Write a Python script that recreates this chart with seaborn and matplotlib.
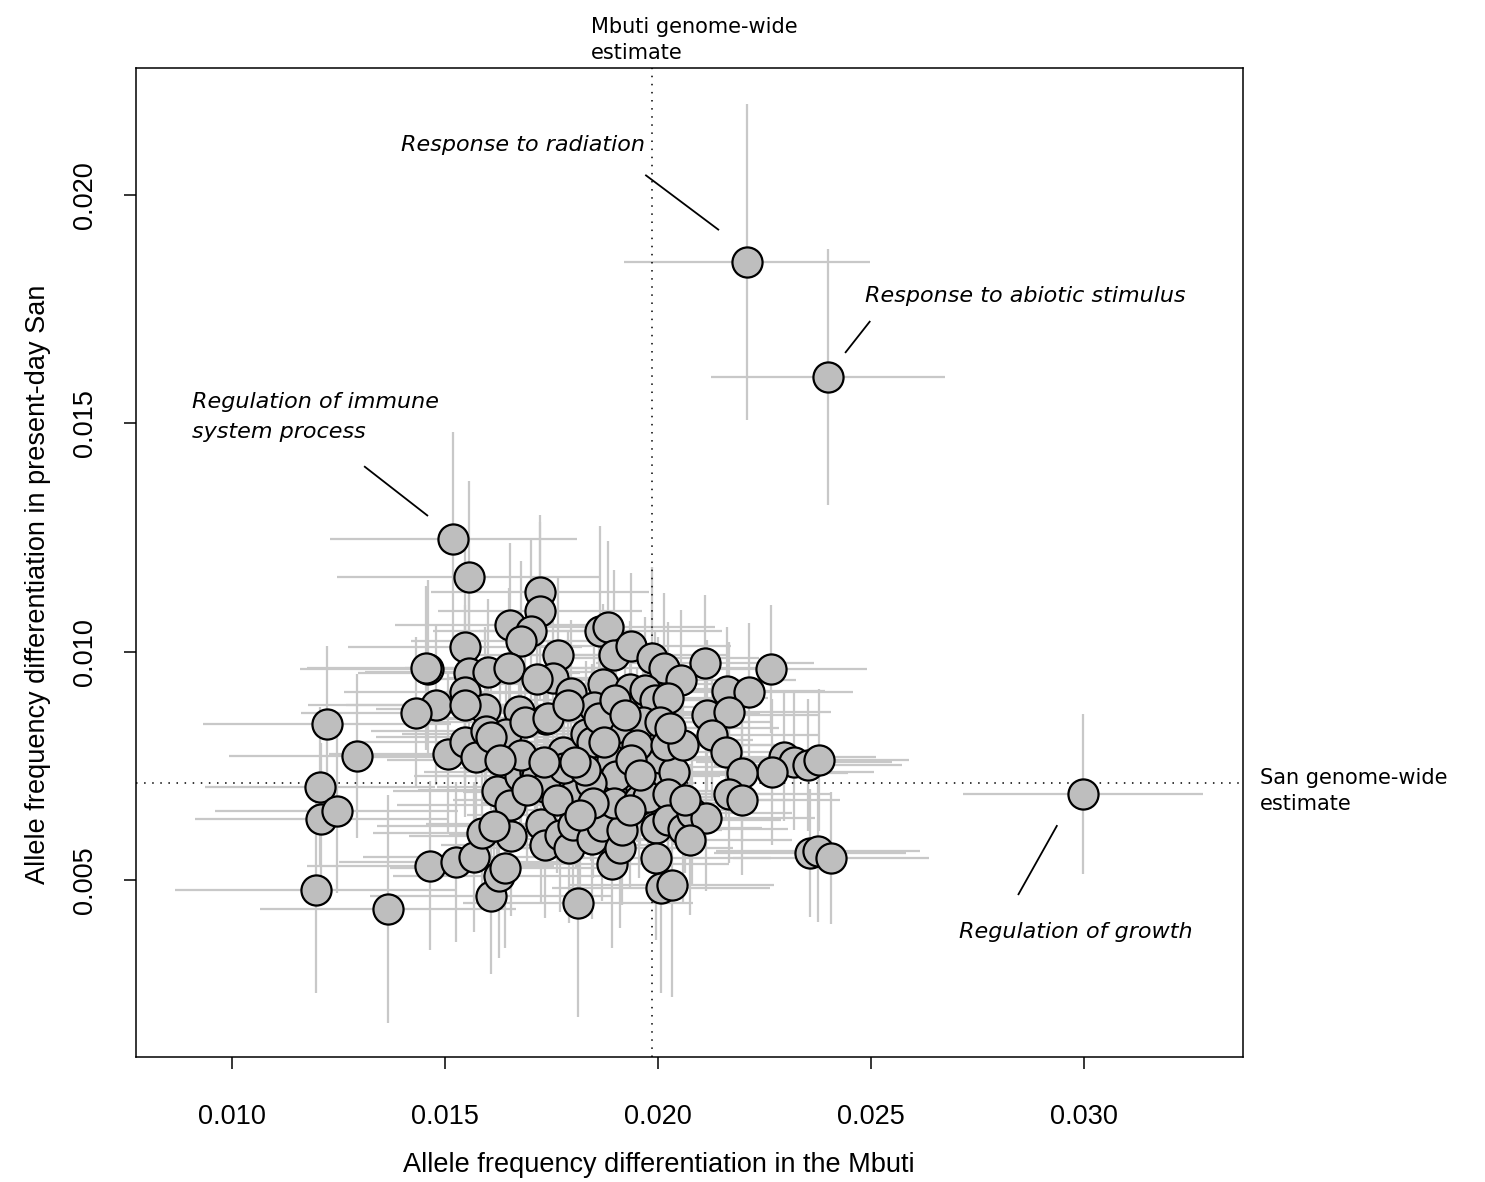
import matplotlib
matplotlib.use("Agg")
import matplotlib.pyplot as plt
import pandas as pd
import seaborn as sns

# Per-category allele frequency differentiation (Mbuti on x, present-day San on y)
mbuti_fst = [
    0.02209, 0.02399, 0.02998, 0.01519, 0.01556, 0.01723, 0.01723, 0.01653, 0.01702, 0.01679,
    0.01864, 0.01883, 0.01547, 0.01765, 0.01897, 0.01937, 0.01986, 0.01460, 0.01455, 0.01556,
    0.01601, 0.01650, 0.02110, 0.02265, 0.02014, 0.02054, 0.01754, 0.01716, 0.01795, 0.01871,
    0.01934, 0.01547, 0.01479, 0.01432, 0.01594, 0.02162, 0.02213, 0.02115, 0.02166, 0.02127,
    0.02159, 0.01674, 0.01737, 0.01850, 0.01901, 0.01969, 0.02000, 0.01969, 0.01993, 0.02023,
    0.01223, 0.01293, 0.01507, 0.01547, 0.01573, 0.01596, 0.01643, 0.01688, 0.01742, 0.01777,
    0.01831, 0.01845, 0.01892, 0.01951, 0.02005, 0.02037, 0.01965, 0.02005, 0.01951, 0.02019,
    0.02296, 0.02319, 0.02352, 0.02378, 0.02267, 0.02197, 0.01207, 0.01209, 0.01246, 0.01197,
    0.01366, 0.01465, 0.01526, 0.01568, 0.01608, 0.01627, 0.01641, 0.01587, 0.01622, 0.01652,
    0.01655, 0.01615, 0.01676, 0.01711, 0.01716, 0.01735, 0.01725, 0.01735, 0.01770, 0.01791,
    0.01800, 0.01807, 0.01779, 0.01812, 0.01845, 0.01869, 0.01864, 0.01890, 0.01892, 0.01901,
    0.01911, 0.01915, 0.01897, 0.01955, 0.01976, 0.01995, 0.01995, 0.02007, 0.02033, 0.02023,
    0.02023, 0.02059, 0.02080, 0.02113, 0.02166, 0.02197, 0.02357, 0.02375, 0.02406, 0.01678,
    0.01732, 0.01843, 0.01861, 0.01692, 0.01608, 0.01828, 0.01936, 0.01847, 0.01763, 0.01934,
    0.01817, 0.01958, 0.02063, 0.02059, 0.02028, 0.01629, 0.01547, 0.01789, 0.01899, 0.01922,
    0.01805, 0.01873, 0.02075,
]
san_fst = [
    0.01853, 0.01601, 0.00688, 0.01247, 0.01164, 0.01130, 0.01089, 0.01058, 0.01045, 0.01023,
    0.01045, 0.01053, 0.01010, 0.00993, 0.00993, 0.01012, 0.00986, 0.00962, 0.00964, 0.00953,
    0.00956, 0.00964, 0.00975, 0.00962, 0.00964, 0.00937, 0.00942, 0.00940, 0.00909, 0.00929,
    0.00918, 0.00911, 0.00883, 0.00866, 0.00874, 0.00914, 0.00912, 0.00861, 0.00867, 0.00818,
    0.00780, 0.00870, 0.00853, 0.00879, 0.00833, 0.00806, 0.00863, 0.00916, 0.00894, 0.00899,
    0.00842, 0.00772, 0.00776, 0.00803, 0.00769, 0.00826, 0.00820, 0.00846, 0.00855, 0.00780,
    0.00820, 0.00803, 0.00763, 0.00748, 0.00767, 0.00737, 0.00846, 0.00846, 0.00796, 0.00796,
    0.00770, 0.00759, 0.00752, 0.00763, 0.00737, 0.00734, 0.00704, 0.00634, 0.00651, 0.00478,
    0.00436, 0.00531, 0.00539, 0.00550, 0.00465, 0.00509, 0.00526, 0.00603, 0.00695, 0.00664,
    0.00596, 0.00618, 0.00728, 0.00737, 0.00728, 0.00704, 0.00623, 0.00577, 0.00599, 0.00570,
    0.00620, 0.00693, 0.00745, 0.00450, 0.00590, 0.00618, 0.00675, 0.00695, 0.00535, 0.00728,
    0.00570, 0.00610, 0.00669, 0.00675, 0.00682, 0.00614, 0.00548, 0.00482, 0.00489, 0.00688,
    0.00631, 0.00612, 0.00647, 0.00636, 0.00688, 0.00675, 0.00559, 0.00564, 0.00548, 0.00774,
    0.00758, 0.00712, 0.00855, 0.00697, 0.00813, 0.00741, 0.00763, 0.00669, 0.00675, 0.00653,
    0.00642, 0.00730, 0.00675, 0.00796, 0.00833, 0.00763, 0.00883, 0.00883, 0.00894, 0.00861,
    0.00758, 0.00803, 0.00588,
]
# Half-widths of the uncertainty intervals
mbuti_err = [
    0.00288, 0.00275, 0.00282, 0.00290, 0.00310, 0.00255, 0.00240, 0.00270, 0.00230, 0.00260,
    0.00285, 0.00250, 0.00275, 0.00240, 0.00265, 0.00235, 0.00250, 0.00300, 0.00280, 0.00260,
    0.00290, 0.00245, 0.00255, 0.00225, 0.00240, 0.00270, 0.00250, 0.00280, 0.00235, 0.00260,
    0.00245, 0.00285, 0.00300, 0.00270, 0.00255, 0.00230, 0.00245, 0.00265, 0.00240, 0.00250,
    0.00230, 0.00275, 0.00260, 0.00245, 0.00270, 0.00255, 0.00240, 0.00265, 0.00250, 0.00235,
    0.00290, 0.00300, 0.00280, 0.00265, 0.00255, 0.00270, 0.00245, 0.00260, 0.00275, 0.00250,
    0.00240, 0.00265, 0.00255, 0.00245, 0.00270, 0.00235, 0.00250, 0.00260, 0.00240, 0.00255,
    0.00215, 0.00230, 0.00220, 0.00210, 0.00240, 0.00250, 0.00270, 0.00295, 0.00285, 0.00330,
    0.00300, 0.00290, 0.00275, 0.00260, 0.00285, 0.00250, 0.00270, 0.00255, 0.00245, 0.00265,
    0.00240, 0.00275, 0.00250, 0.00260, 0.00240, 0.00255, 0.00270, 0.00245, 0.00260, 0.00250,
    0.00235, 0.00265, 0.00245, 0.00270, 0.00255, 0.00240, 0.00260, 0.00250, 0.00275, 0.00245,
    0.00265, 0.00235, 0.00255, 0.00245, 0.00260, 0.00250, 0.00270, 0.00255, 0.00240, 0.00250,
    0.00265, 0.00245, 0.00235, 0.00255, 0.00240, 0.00230, 0.00225, 0.00240, 0.00230, 0.00260,
    0.00250, 0.00245, 0.00265, 0.00255, 0.00270, 0.00240, 0.00250, 0.00260, 0.00245, 0.00255,
    0.00265, 0.00240, 0.00250, 0.00245, 0.00255, 0.00265, 0.00280, 0.00250, 0.00245, 0.00260,
    0.00250, 0.00255, 0.00240,
]
san_err = [
    0.00346, 0.00280, 0.00176, 0.00235, 0.00210, 0.00170, 0.00195, 0.00180, 0.00200, 0.00175,
    0.00230, 0.00190, 0.00215, 0.00170, 0.00185, 0.00160, 0.00200, 0.00195, 0.00180, 0.00170,
    0.00160, 0.00175, 0.00150, 0.00140, 0.00165, 0.00155, 0.00185, 0.00170, 0.00160, 0.00175,
    0.00150, 0.00190, 0.00175, 0.00165, 0.00180, 0.00140, 0.00150, 0.00165, 0.00155, 0.00145,
    0.00150, 0.00170, 0.00160, 0.00175, 0.00165, 0.00155, 0.00170, 0.00160, 0.00150, 0.00165,
    0.00170, 0.00180, 0.00175, 0.00165, 0.00185, 0.00160, 0.00170, 0.00155, 0.00165, 0.00175,
    0.00160, 0.00170, 0.00155, 0.00165, 0.00150, 0.00160, 0.00170, 0.00155, 0.00165, 0.00150,
    0.00140, 0.00150, 0.00145, 0.00155, 0.00160, 0.00150, 0.00175, 0.00165, 0.00180, 0.00225,
    0.00250, 0.00185, 0.00175, 0.00165, 0.00170, 0.00180, 0.00175, 0.00165, 0.00170, 0.00160,
    0.00175, 0.00165, 0.00160, 0.00170, 0.00155, 0.00165, 0.00175, 0.00160, 0.00170, 0.00165,
    0.00155, 0.00170, 0.00160, 0.00250, 0.00175, 0.00165, 0.00160, 0.00170, 0.00185, 0.00155,
    0.00175, 0.00165, 0.00160, 0.00170, 0.00155, 0.00165, 0.00180, 0.00230, 0.00245, 0.00160,
    0.00170, 0.00165, 0.00155, 0.00160, 0.00150, 0.00165, 0.00140, 0.00155, 0.00145, 0.00165,
    0.00160, 0.00170, 0.00155, 0.00165, 0.00160, 0.00170, 0.00155, 0.00165, 0.00160, 0.00170,
    0.00175, 0.00155, 0.00160, 0.00150, 0.00165, 0.00170, 0.00175, 0.00160, 0.00155, 0.00165,
    0.00160, 0.00170, 0.00165,
]

# Genome-wide reference values
mbuti_genome_wide = 0.01986
san_genome_wide = 0.00712

x_ticks = [0.010, 0.015, 0.020, 0.025, 0.030]
x_tick_labels = ["0.010", "0.015", "0.020", "0.025", "0.030"]
y_ticks = [0.005, 0.010, 0.015, 0.020]
y_tick_labels = ["0.005", "0.010", "0.015", "0.020"]

sns.set_style("white")
plt.rcParams["font.family"] = ["Liberation Sans", "DejaVu Sans"]

W, H = 1485, 1182
fig = plt.figure(figsize=(W / 100, H / 100), dpi=100)
ax = fig.add_axes([136 / W, 1 - 1057 / H, 1107 / W, 989 / H])

df = pd.DataFrame({
    "mbuti": mbuti_fst,
    "san": san_fst,
    "mbuti_err": mbuti_err,
    "san_err": san_err,
})

# Interval whiskers behind the points
ax.errorbar(df["mbuti"], df["san"], xerr=df["mbuti_err"], yerr=df["san_err"],
            fmt="none", ecolor="#c8c8c8", elinewidth=1.6, capsize=0, zorder=1)

sns.scatterplot(data=df, x="mbuti", y="san", ax=ax, s=470, color="#bebebe",
                edgecolor="black", linewidth=1.6, zorder=3, legend=False)

# Genome-wide reference lines
dot = (0, (1, 4.3))
ax.axvline(mbuti_genome_wide, color="black", lw=1.1, ls=dot, zorder=2)
ax.axhline(san_genome_wide, color="black", lw=1.1, ls=dot, zorder=2)

ax.set_xlim(0.007746, 0.03373)
ax.set_ylim(0.001123, 0.02278)

ax.set_xticks(x_ticks)
ax.set_xticklabels(x_tick_labels)
ax.set_yticks(y_ticks)
ax.set_yticklabels(y_tick_labels, rotation=90, va="center")
ax.tick_params(axis="both", direction="out", length=8.6, width=1.1,
               labelsize=19.5, color="black", labelcolor="black",
               bottom=True, left=True, top=False, right=False)
ax.tick_params(axis="x", pad=25)
ax.tick_params(axis="y", pad=19)
for sp in ax.spines.values():
    sp.set_visible(True)
    sp.set_color("black")
    sp.set_linewidth(1.1)

ax.set_xlabel("Allele frequency differentiation in the Mbuti", fontsize=19.5, color="black")
ax.set_ylabel("Allele frequency differentiation in present-day San", fontsize=19.5, color="black")
ax.xaxis.set_label_coords((659 - 136) / 1107, (1057 - 1165) / 989)
ax.yaxis.set_label_coords((38 - 136) / 1107, (1057 - 584) / 989)
ax.xaxis.label.set_va("center")
ax.yaxis.label.set_va("center")

# Category labels with leader lines
lab_font = dict(family=["DejaVu Sans"], style="italic", fontsize=16, color="black")
ax.text(0.01970, 0.02110, "Response to radiation", ha="right", va="center", **lab_font)
ax.text(0.02486, 0.01779, "Response to abiotic stimulus", ha="left", va="center", **lab_font)
ax.text(0.00906, 0.01514, "Regulation of immune\nsystem process", ha="left", va="center",
        linespacing=1.6, **lab_font)
ax.text(0.03254, 0.00386, "Regulation of growth", ha="right", va="center", **lab_font)

leaders = [
    ((0.01970, 0.02044), (0.02143, 0.01923)),
    ((0.02498, 0.01724), (0.02439, 0.01654)),
    ((0.01310, 0.01406), (0.01460, 0.01297)),
    ((0.02937, 0.00620), (0.02845, 0.00467)),
]
for (x0, y0), (x1, y1) in leaders:
    ax.plot([x0, x1], [y0, y1], color="black", lw=1.3, zorder=4, solid_capstyle="butt")

ref_font = dict(family=["DejaVu Sans"], fontsize=15, color="black")
fig.text(591 / W, 1 - 40 / H, "Mbuti genome-wide\nestimate", ha="left", va="center",
         linespacing=1.35, **ref_font)
fig.text(1260 / W, 1 - 791 / H, "San genome-wide\nestimate", ha="left", va="center",
         linespacing=1.35, **ref_font)

fig.savefig("out.png", dpi=100, facecolor="white")
